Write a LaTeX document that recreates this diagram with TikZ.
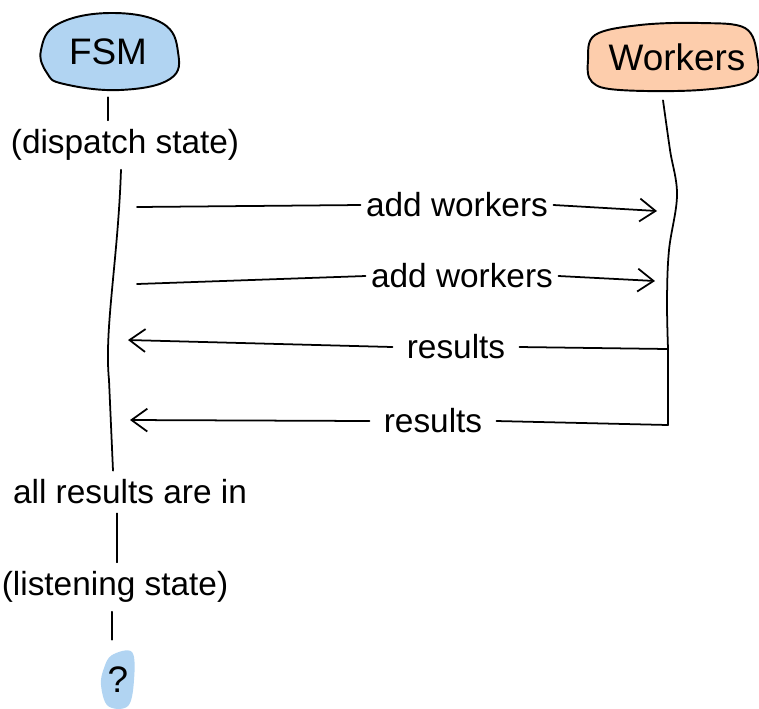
\documentclass[tikz,border=0pt]{standalone}
\usepackage{fontspec}
\setmainfont{Liberation Sans}
\usetikzlibrary{arrows.meta,calc}
\definecolor{fsmblue}{RGB}{177,212,242}
\definecolor{workerpeach}{RGB}{253,205,172}
\tikzset{
  actor/.style={
    font = \fontsize{21}{25}\selectfont,
    inner sep = 0pt
  },
  state/.style={
    font = \fontsize{19}{23}\selectfont,
    inner sep = 5pt
  },
  msglabel/.style={
    font = \fontsize{19}{23}\selectfont,
    inner sep = 3pt
  },
  life/.style={
    line width = 1pt,
    line cap = round
  },
  msg/.style={
    line width = 1pt,
    line cap = round
  },
  tip/.style={
    -{Straight Barb[length=9pt,width=13pt,line width=1pt]}
  },
  blob/.style={
    line width = 1.1pt,
    line join = round
  }
}
\begin{document}
\begin{tikzpicture}[x=0.02cm,y=-0.02cm]
\useasboundingbox (0,0) rectangle (759,708);

% actors
\draw[blob,fill=fsmblue] plot[smooth cycle,tension=0.7] coordinates
  {(41,50) (58,24) (110,13) (162,23) (178,52) (170,79) (120,90) (64,84) (47,73)};
\node[actor,minimum height=1.8cm] (fsm) at (108,52) {FSM};

\draw[blob,fill=workerpeach] plot[smooth cycle,tension=0.6] coordinates
  {(588,60) (595,35) (640,25) (700,23) (745,28) (757,55) (752,80) (700,90) (620,90) (592,82)};
\node[actor,minimum height=1.72cm] (workers) at (677,57) {Workers};

\fill[fsmblue] plot[smooth cycle,tension=0.6] coordinates
  {(104,668) (112,655) (132,652) (134,680) (128,706) (108,706) (101,685)};
\node[actor,minimum height=1.6cm] (query) at (118,680) {?};

% states on the FSM lifeline
\node[state] (dispatch) at (125,145) {(dispatch state)};
\node[state] (allres) at (130,492) {all results are in};
\node[state] (listening) at (115,587) {(listening state)};

\draw[life] (fsm.south) -- (dispatch.north -| fsm.south);
\draw[life] ($(dispatch.south)+(-4,0)$) .. controls (118,260) and (104,330) .. (109,380)
  -- ($(allres.north)+(-17,0)$);
\draw[life] ($(allres.south)+(-13,0)$) -- ($(listening.north)+(2,0)$);
\draw[life] ($(listening.south)+(-3,0)$) -- ($(query.north)+(-6,0)$);

% messages
\coordinate (fsmA) at (137,207);
\coordinate (wrkA) at (657,211);
\coordinate (fsmB) at (137,284);
\coordinate (wrkB) at (655,281);
\coordinate (wrkC) at (668,349);
\coordinate (fsmC) at (128,340);
\coordinate (wrkD) at (668,425);
\coordinate (fsmD) at (130,420);
\coordinate (wrkTop) at ($(workers.south)+(-14,0)$);

\draw[life] plot[smooth,tension=0.6] coordinates
  {(wrkTop) (670,150) (677,195) (669,250) (667,300) (wrkC)} -- (wrkD);

\node[msglabel] (addA) at (457,205) {add workers};
\node[msglabel] (addB) at (462,276) {add workers};
\node[msglabel,inner sep=8pt] (resA) at (456,347) {results};
\node[msglabel,inner sep=8pt] (resB) at (433,421) {results};

\draw[msg] (fsmA) -- (addA.west);
\draw[msg,tip] (addA.east) -- (wrkA);
\draw[msg] (fsmB) -- (addB.west);
\draw[msg,tip] (addB.east) -- (wrkB);
\draw[msg] (wrkC) -- (resA.east);
\draw[msg,tip] (resA.west) -- (fsmC);
\draw[msg] (wrkD) -- (resB.east);
\draw[msg,tip] (resB.west) -- (fsmD);

\end{tikzpicture}
\end{document}
